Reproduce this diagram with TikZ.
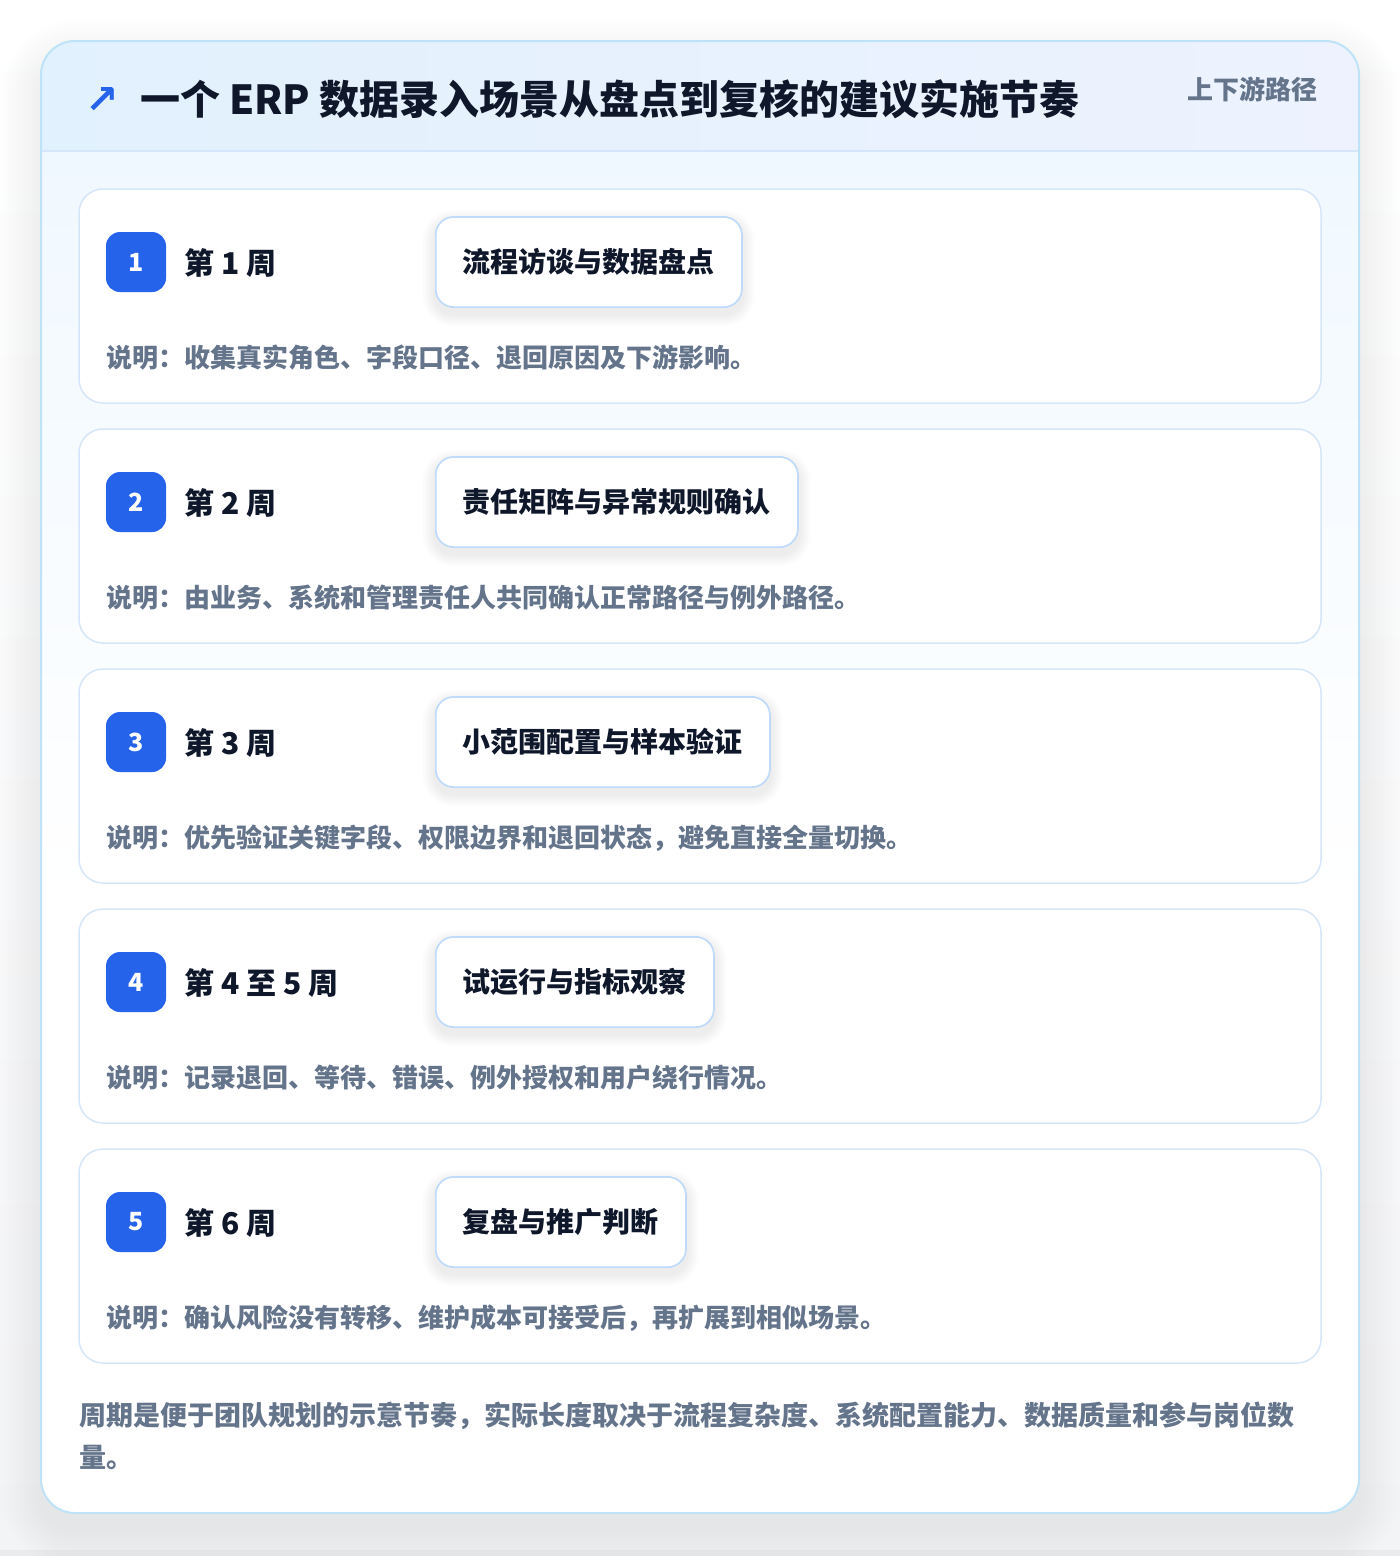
\documentclass[tikz,border=0pt]{standalone}
\usepackage{fontspec}
\setmainfont{Noto Sans CJK SC}
\newfontfamily\symfont{DejaVu Sans}
\definecolor{ink}{HTML}{0F172A}
\definecolor{muted}{HTML}{64748B}
\definecolor{brand}{HTML}{2563EB}
\definecolor{outerline}{HTML}{BEE3F8}
\definecolor{cardline}{HTML}{D6E6FA}
\definecolor{taskline}{HTML}{BFDBFE}
\definecolor{headL}{HTML}{E1F1FD}
\definecolor{headR}{HTML}{EDF2FE}
\definecolor{bodyT}{HTML}{F0F8FF}
\definecolor{pageB}{HTML}{F3F4F6}
\definecolor{shadowc}{HTML}{1E293B}
\tikzset{
  stepcard/.style={draw=cardline, line width=1.5pt, fill=white, rounded corners=24pt},
  badge/.style={fill=brand, rounded corners=14pt, minimum width=60pt, minimum height=60pt, inner sep=0pt, text=white, font=\bfseries\fontsize{25}{25}\selectfont},
  weeklabel/.style={anchor=base west, inner sep=0pt, text=ink, font=\bfseries\fontsize{30}{30}\selectfont},
  taskbox/.style={draw=taskline, line width=1.5pt, fill=white, rounded corners=18pt, minimum height=90pt, inner xsep=27pt, text=ink, font=\bfseries\fontsize{28}{28}\selectfont, anchor=west},
  desc/.style={anchor=base west, inner sep=0pt, text=muted, font=\bfseries\fontsize{26}{26}\selectfont},
}
\newcommand\stepitem[6]{%
  \path[stepcard] (79,#2) rectangle (1321,#2+214);
  \node[taskbox] (task#1) at (435,#2+73) {\phantom{#5}};
  \foreach \k in {1,...,6}{
    \pgfmathsetmacro\e{2*\k}
    \fill[shadowc, opacity=0.01, rounded corners=18pt+\e pt]
      ([xshift=-\e pt, yshift=-6pt+\e pt]task#1.north west) rectangle ([xshift=\e pt, yshift=-6pt-\e pt]task#1.south east);
  }
  \node[taskbox] (task#1) at (435,#2+73) {#5};
  \node[badge] (badge#1) at (136,#2+73) {#3};
  \node[weeklabel] (week#1) at (184,#2+85) {#4};
  \node[desc] (desc#1) at (106,#2+178) {#6};
}
\begin{document}
\begin{tikzpicture}[x=1pt,y=-1pt]
\useasboundingbox (0,0) rectangle (1400,1556);
\shade[top color=white, bottom color=pageB] (0,0) rectangle (1400,1556);
\fill[pageB!92!gray] (0,1550) rectangle (1400,1556);
% outer card shadow
\foreach \k in {1,...,14}{
  \pgfmathsetmacro\e{2.8*\k}
  \fill[shadowc, opacity=0.0055, rounded corners=34pt+\e pt] (41-\e,41-\e+18) rectangle (1359+\e,1513+\e+18);
}
\path[fill=white, rounded corners=34pt] (41,41) rectangle (1359,1513);
\begin{scope}
  \path[clip, rounded corners=34pt] (41,41) rectangle (1359,1513);
  \shade[left color=headL, right color=headR] (41,41) rectangle (1359,151);
  \shade[top color=bodyT, bottom color=white] (41,151) rectangle (1359,900);
  \fill[white] (41,899) rectangle (1359,1513);
  \draw[cardline, line width=1.5pt] (41,151) -- (1359,151);
\end{scope}
\draw[outerline, line width=2pt, rounded corners=34pt] (41,41) rectangle (1359,1513);
% header
\node[text=brand, font=\symfont\bfseries\fontsize{40}{40}\selectfont, inner sep=0pt] (arrow) at (102,100) {↗};
\node[anchor=base west, inner sep=0pt, text=ink, font=\bfseries\fontsize{40}{40}\selectfont] (title) at (140,114) {一个 ERP 数据录入场景从盘点到复核的建议实施节奏};
\node[anchor=base east, inner sep=0pt, text=muted, font=\bfseries\fontsize{26}{26}\selectfont] (tag) at (1318,99) {上下游路径};
% steps
\stepitem{1}{189}{1}{第 1 周}{流程访谈与数据盘点}{说明：收集真实角色、字段口径、退回原因及下游影响。}
\stepitem{2}{429}{2}{第 2 周}{责任矩阵与异常规则确认}{说明：由业务、系统和管理责任人共同确认正常路径与例外路径。}
\stepitem{3}{669}{3}{第 3 周}{小范围配置与样本验证}{说明：优先验证关键字段、权限边界和退回状态，避免直接全量切换。}
\stepitem{4}{909}{4}{第 4 至 5 周}{试运行与指标观察}{说明：记录退回、等待、错误、例外授权和用户绕行情况。}
\stepitem{5}{1149}{5}{第 6 周}{复盘与推广判断}{说明：确认风险没有转移、维护成本可接受后，再扩展到相似场景。}
% footer
\node[anchor=base west, inner sep=0pt, text=muted, font=\bfseries\fontsize{27}{27}\selectfont] (note1) at (79,1425) {周期是便于团队规划的示意节奏，实际长度取决于流程复杂度、系统配置能力、数据质量和参与岗位数};
\node[anchor=base west, inner sep=0pt, text=muted, font=\bfseries\fontsize{27}{27}\selectfont] (note2) at (79,1467) {量。};
\end{tikzpicture}
\end{document}
